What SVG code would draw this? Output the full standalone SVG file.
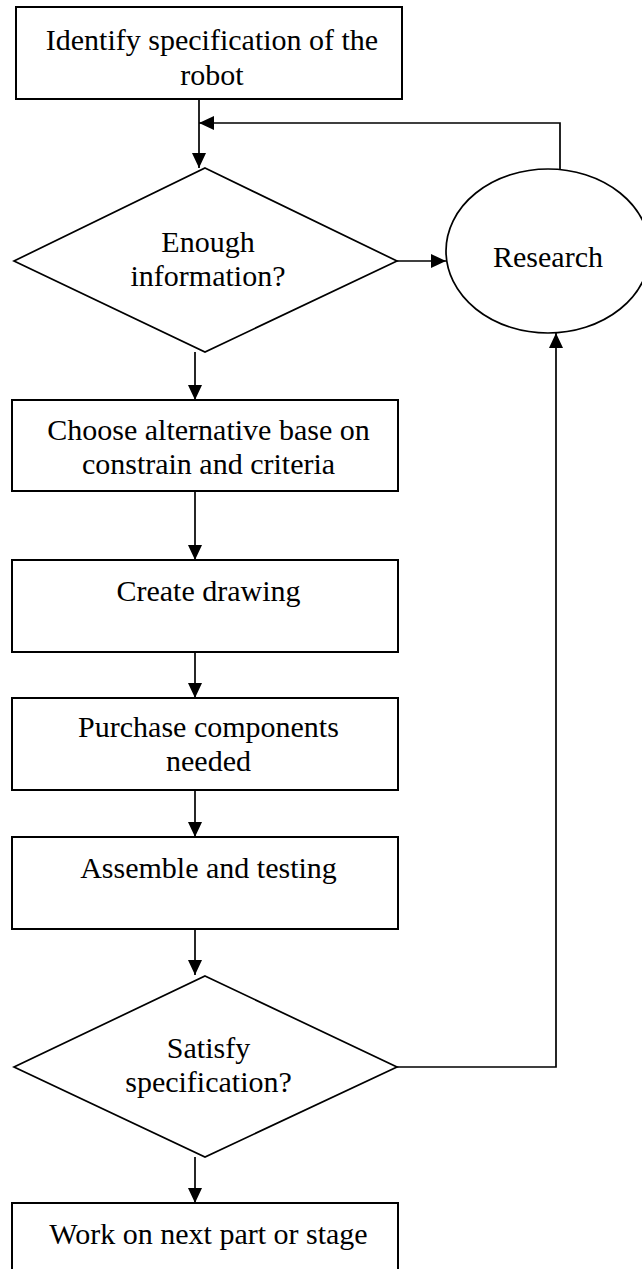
<svg xmlns="http://www.w3.org/2000/svg" width="642" height="1269" viewBox="0 0 642 1269">
  <style>
    .box { fill: #fff; stroke: #000; stroke-width: 2; }
    .dec { fill: #fff; stroke: #000; stroke-width: 1.7; }
    .lbl { font-family: "Liberation Serif", "Times New Roman", serif; font-size: 30px; fill: #000; text-anchor: middle; }
    .wire { fill: none; stroke: #000; stroke-width: 1.7; }
  </style>
  <defs>
    <marker id="arrow" viewBox="0 0 15 14" refX="15" refY="7" markerWidth="15" markerHeight="14" markerUnits="userSpaceOnUse" orient="auto">
      <path d="M0,0 L15,7 L0,14 Z" fill="#000"/>
    </marker>
  </defs>
  <rect width="642" height="1269" fill="#fff"/>

  <!-- connectors -->
  <g id="connectors">
    <path class="wire" d="M199,99 V168" stroke-width="2.4" marker-end="url(#arrow)"/>
    <path class="wire" d="M560,170 V123 H199" marker-end="url(#arrow)"/>
    <path class="wire" d="M397,261 H446" stroke-width="2.2" marker-end="url(#arrow)"/>
    <path class="wire" d="M195,352 V400" marker-end="url(#arrow)"/>
    <path class="wire" d="M195,491 V560" marker-end="url(#arrow)"/>
    <path class="wire" d="M195,652 V698" marker-end="url(#arrow)"/>
    <path class="wire" d="M195,790 V837" marker-end="url(#arrow)"/>
    <path class="wire" d="M195,929 V975" marker-end="url(#arrow)"/>
    <path class="wire" d="M397,1067 H556 V333" marker-end="url(#arrow)"/>
    <path class="wire" d="M195,1157 V1203" marker-end="url(#arrow)"/>
  </g>

  <!-- process steps and decisions -->
  <g id="identify">
    <rect class="box" x="16" y="7" width="386" height="92"/>
    <text class="lbl" x="212" y="50">Identify specification of the</text>
    <text class="lbl" x="212" y="85">robot</text>
  </g>
  <g id="enough-info">
    <polygon class="dec" points="205,168 397,261 205,352 14,261"/>
    <text class="lbl" x="208" y="252">Enough</text>
    <text class="lbl" x="208" y="286">information?</text>
  </g>
  <g id="research">
    <ellipse class="dec" cx="548" cy="251" rx="102" ry="82"/>
    <text class="lbl" x="548" y="267">Research</text>
  </g>
  <g id="choose">
    <rect class="box" x="12" y="400" width="386" height="91"/>
    <text class="lbl" x="208.5" y="440">Choose alternative base on</text>
    <text class="lbl" x="208.5" y="474">constrain and criteria</text>
  </g>
  <g id="drawing">
    <rect class="box" x="12" y="560" width="386" height="92"/>
    <text class="lbl" x="208.5" y="601">Create drawing</text>
  </g>
  <g id="purchase">
    <rect class="box" x="12" y="698" width="386" height="92"/>
    <text class="lbl" x="208.5" y="737">Purchase components</text>
    <text class="lbl" x="208.5" y="771">needed</text>
  </g>
  <g id="assemble">
    <rect class="box" x="12" y="837" width="386" height="92"/>
    <text class="lbl" x="208.5" y="878">Assemble and testing</text>
  </g>
  <g id="satisfy">
    <polygon class="dec" points="205,976 397,1067 205,1157 14,1067"/>
    <text class="lbl" x="208.5" y="1058">Satisfy</text>
    <text class="lbl" x="208.5" y="1092">specification?</text>
  </g>
  <g id="next-stage">
    <rect class="box" x="12" y="1203" width="386" height="90"/>
    <text class="lbl" x="208.5" y="1244">Work on next part or stage</text>
  </g>
</svg>
